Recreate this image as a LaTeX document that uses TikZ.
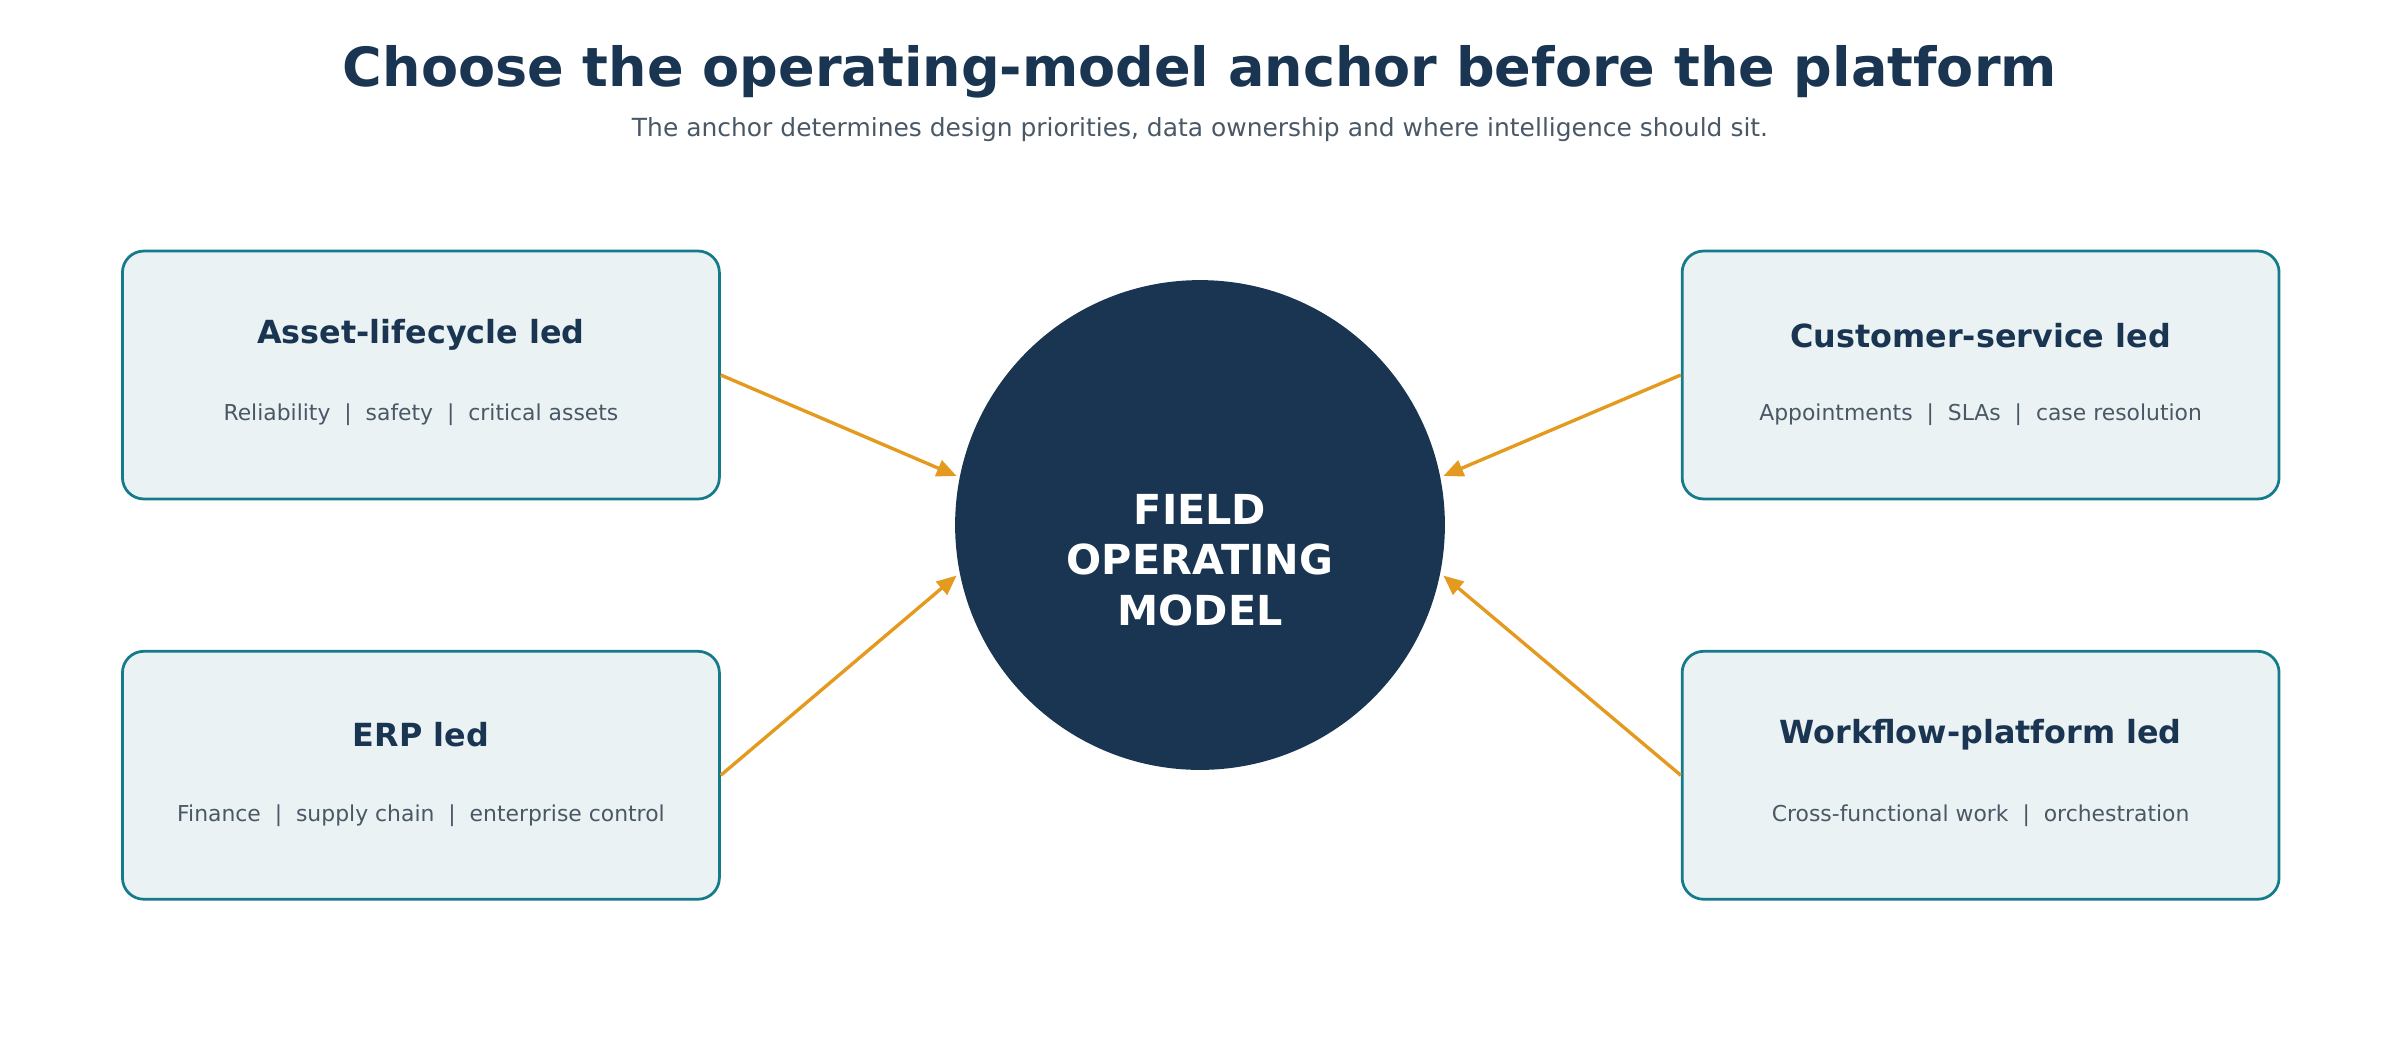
\documentclass[tikz,border=0pt]{standalone}
\usepackage{fontspec}
\setmainfont{DejaVu Sans}
\usetikzlibrary{arrows.meta}
\definecolor{navy}{HTML}{1A3551}
\definecolor{teal}{HTML}{157A8A}
\definecolor{boxfill}{HTML}{EAF2F4}
\definecolor{orng}{HTML}{E39A1F}
\definecolor{gtxt}{HTML}{4A5866}
\begin{document}
\begin{tikzpicture}[x=1pt,y=-1pt,
  box/.style={draw=teal,line width=1.8pt,fill=boxfill,rounded corners=14pt,minimum width=390pt,minimum height=162pt,inner sep=0pt},
  btitle/.style={font=\fontsize{20.8}{24}\selectfont\bfseries,text=navy},
  bsub/.style={font=\fontsize{14.3}{17}\selectfont,text=gtxt},
  arr/.style={draw=orng,line width=2.2pt,-{Triangle[length=13pt,width=11pt]}}]
\useasboundingbox (0,0) rectangle (1568,686);
\node[font=\fontsize{35.3}{40}\selectfont\bfseries,text=navy] (title) at (784,47) {Choose the operating-model anchor before the platform};
\node[font=\fontsize{16.3}{19}\selectfont,text=gtxt] (sub) at (784,85) {The anchor determines design priorities, data ownership and where intelligence should sit.};
\node[circle,fill=navy,minimum size=320pt,inner sep=0pt] (c) at (784,343) {};
\node[font=\fontsize{27}{33}\selectfont\bfseries,text=white,align=center] (ct) at (784,366) {FIELD\\OPERATING\\MODEL};
\node[box] (b1) at (275,245) {};
\node[box] (b2) at (275,506.5) {};
\node[box] (b3) at (1294,245) {};
\node[box] (b4) at (1294,506.5) {};
\node[btitle] (t1) at (275,219) {Asset-lifecycle led};
\node[bsub] (s1) at (275,271) {Reliability \ | \ safety \ | \ critical assets};
\node[btitle] (t2) at (275,480) {ERP led};
\node[bsub] (s2) at (275,533) {Finance \ | \ supply chain \ | \ enterprise control};
\node[btitle] (t3) at (1294,219) {Customer-service led};
\node[bsub] (s3) at (1294,271) {Appointments \ | \ SLAs \ | \ case resolution};
\node[btitle] (t4) at (1294,480) {Workflow-platform led};
\node[bsub] (s4) at (1294,533) {Cross-functional work \ | \ orchestration};
\coordinate (e1) at (625,311);
\coordinate (e2) at (625,376);
\coordinate (e3) at (943,311);
\coordinate (e4) at (943,376);
\draw[arr] (b1.east) -- (e1);
\draw[arr] (b2.east) -- (e2);
\draw[arr] (b3.west) -- (e3);
\draw[arr] (b4.west) -- (e4);
\end{tikzpicture}
\end{document}
